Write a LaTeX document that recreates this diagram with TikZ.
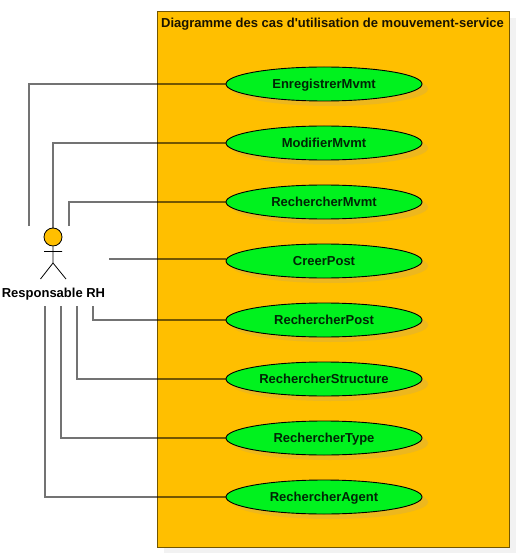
\documentclass[tikz,border=0pt]{standalone}
\usepackage{fontspec}
\defaultfontfeatures[\rmfamily]{}
\setmainfont{Liberation Sans}
\usetikzlibrary{shapes.geometric}
\definecolor{boxfill}{HTML}{FFBF00}
\definecolor{ucgreen}{HTML}{00F21E}
\definecolor{actorfill}{HTML}{FFBF00}
\definecolor{ucshade}{HTML}{EDB71E}
\tikzset{
  usecase/.style={ellipse,draw=black,line width=0.9pt,fill=ucgreen,minimum width=196pt,minimum height=34pt,inner sep=0pt,font=\fontsize{13}{15}\selectfont\bfseries,text=black!85!ucgreen,text height=10.5pt,text depth=2pt},
  ucshadow/.style={fill=ucshade,draw=none},
  conn/.style={draw=black,draw opacity=0.55,line width=1.7pt,line join=miter},
  stick/.style={draw=black,line width=0.8pt},
}
\begin{document}
\begin{tikzpicture}[x=1pt,y=-1pt]
\useasboundingbox (0,0) rectangle (518,553);
% system boundary
\fill[black!5] (164,18) rectangle (516,553);
\node[draw=black!55!boxfill,line width=1.3pt,fill=boxfill,minimum width=352pt,minimum height=536pt,inner sep=0pt,anchor=north west] (sys) at (157,11) {};
\node[anchor=west,inner sep=0pt,font=\fontsize{13}{15}\selectfont\bfseries,text=black!90!boxfill] (title) at (161,24.5) {Diagramme des cas d'utilisation de mouvement-service};
% shadows
\foreach \y in {84,143,202,261,320,379,438,497}
  \fill[ucshadow] (330,\y+5) ellipse [x radius=98,y radius=17];
% use cases
\node[usecase] (u1) at (324,84) {EnregistrerMvmt};
\node[usecase] (u2) at (324,143) {ModifierMvmt};
\node[usecase] (u3) at (324,202) {RechercherMvmt};
\node[usecase] (u4) at (324,261) {CreerPost};
\node[usecase] (u5) at (324,320) {RechercherPost};
\node[usecase] (u6) at (324,379) {RechercherStructure};
\node[usecase] (u7) at (324,438) {RechercherType};
\node[usecase] (u8) at (324,497) {RechercherAgent};
% actor
\node[circle,draw=black,line width=0.8pt,fill=actorfill,minimum size=18pt,inner sep=0pt] (head) at (53,237) {};
\coordinate (hip) at (53,263);
\coordinate (armL) at (44,251.5);
\coordinate (armR) at (62,251.5);
\coordinate (legL) at (40.5,279);
\coordinate (legR) at (66,279);
\draw[stick] (head.south) -- (hip) (armL) -- (armR) (legL) -- (hip) -- (legR);
\node[inner sep=0pt,font=\fontsize{13}{15}\selectfont\bfseries] (actor) at (53.5,294) {Responsable RH};
% connector ends
\coordinate (c1) at (29,226);
\coordinate (c2) at (53,228);
\coordinate (c3) at (69,226);
\coordinate (c4) at (109,259);
\coordinate (c5) at (93,306);
\coordinate (c6) at (77,306);
\coordinate (c7) at (61,306);
\coordinate (c8) at (45,306);
\draw[conn] (c1) |- (u1.west);
\draw[conn] (c2) |- (u2.west);
\draw[conn] (c3) |- (u3.west);
\draw[conn] (c4) -- (c4 -| u4.west);
\draw[conn] (c5) |- (u5.west);
\draw[conn] (c6) |- (u6.west);
\draw[conn] (c7) |- (u7.west);
\draw[conn] (c8) |- (u8.west);
\end{tikzpicture}
\end{document}
